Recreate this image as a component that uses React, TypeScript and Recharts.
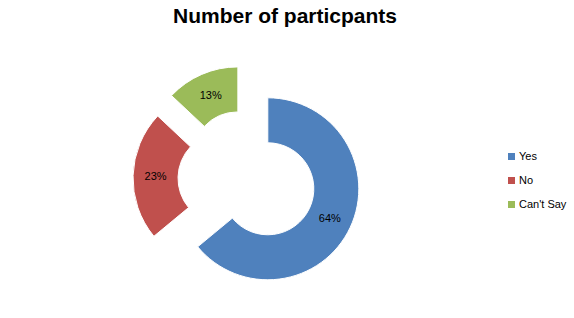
import { PieChart, Pie, Cell, Sector } from 'recharts'

const categories = ['Yes', 'No', "Can't Say"]
const participants = [64, 23, 13]
const colors = ['#4F81BD', '#C0504D', '#9BBB59']

const data = categories.map((name, i) => ({ name, value: participants[i] }))

const RAD = Math.PI / 180
const EXPLODE = 23

function offset(midAngle: number) {
  return {
    dx: EXPLODE * Math.cos(-midAngle * RAD),
    dy: EXPLODE * Math.sin(-midAngle * RAD),
  }
}

function ExplodedSector(props: any) {
  const { dx, dy } = offset(props.midAngle)
  return <Sector {...props} cx={props.cx + dx} cy={props.cy + dy} stroke="#fff" strokeWidth={1} />
}

function renderLabel(props: any) {
  const { cx, cy, midAngle, innerRadius, outerRadius, percent } = props
  const { dx, dy } = offset(midAngle)
  const r = (innerRadius + outerRadius) / 2
  const x = cx + dx + r * Math.cos(-midAngle * RAD)
  const y = cy + dy + r * Math.sin(-midAngle * RAD)
  return (
    <text x={x} y={y} textAnchor="middle" dominantBaseline="central" stroke="none"
      fontSize={11} fontFamily="Liberation Sans, Arial, sans-serif" fill="#000">
      {`${Math.round(percent * 100)}%`}
    </text>
  )
}

export default function App() {
  return (
    <div style={{ position: 'fixed', left: 0, top: 0, width: 574, height: 318, background: '#fff' }}>
      <div style={{
        position: 'absolute', top: 4, left: 0, width: 570, textAlign: 'center',
        fontFamily: 'Liberation Sans, Arial, sans-serif', fontWeight: 'bold', fontSize: 21, color: '#000',
      }}>
        Number of particpants
      </div>
      <PieChart width={574} height={318} margin={{ top: 0, right: 0, bottom: 0, left: 0 }}>
        <Pie data={data} dataKey="value" nameKey="name" cx={247} cy={179}
          innerRadius={46} outerRadius={91} startAngle={90} endAngle={-270}
          isAnimationActive={false} label={renderLabel} labelLine={false}
          shape={ExplodedSector} activeShape={ExplodedSector} inactiveShape={ExplodedSector}>
          {data.map((d, i) => <Cell key={d.name} fill={colors[i]} />)}
        </Pie>
      </PieChart>
      <div style={{
        position: 'absolute', left: 508, top: 144,
        fontFamily: 'Liberation Sans, Arial, sans-serif', fontSize: 11, color: '#000',
      }}>
        {categories.map((c, i) => (
          <div key={c} style={{ display: 'flex', alignItems: 'center', height: 24 }}>
            <span style={{ width: 7, height: 7, background: colors[i], marginRight: 4, display: 'inline-block' }} />
            {c}
          </div>
        ))}
      </div>
    </div>
  )
}
